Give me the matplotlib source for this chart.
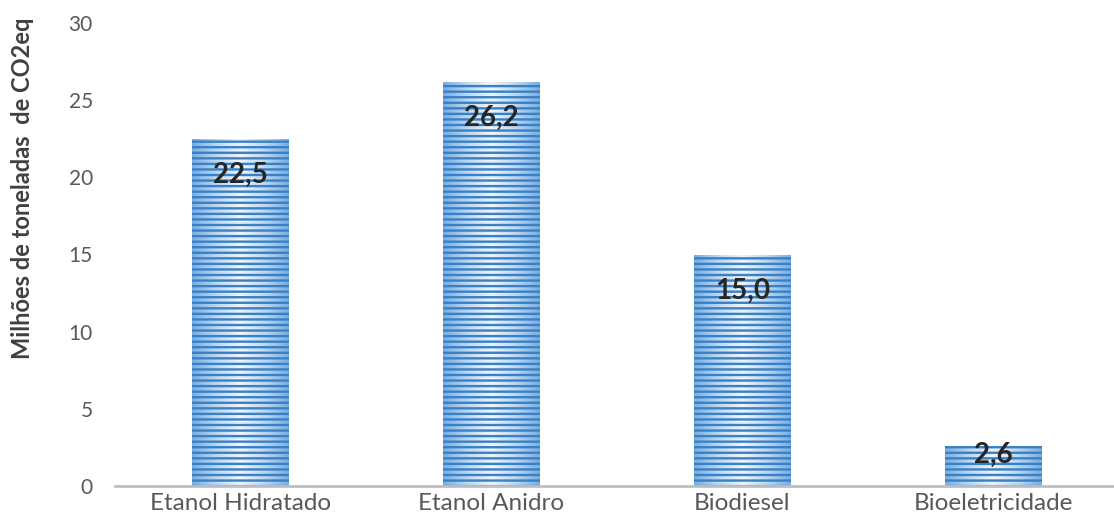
import numpy as np
import matplotlib
matplotlib.use("Agg")
import matplotlib.pyplot as plt
from matplotlib.colors import LinearSegmentedColormap

categories = ["Etanol Hidratado", "Etanol Anidro", "Biodiesel", "Bioeletricidade"]
values = [22.5, 26.2, 15.0, 2.6]
value_labels = ["22,5", "26,2", "15,0", "2,6"]
y_ticks = [0, 5, 10, 15, 20, 25, 30]
y_label = "Milhões de toneladas  de CO2eq"

plt.rcParams["font.family"] = ["Lato", "DejaVu Sans"]
plt.rcParams["hatch.linewidth"] = 1.7

fig = plt.figure(figsize=(11.14, 5.29), dpi=100)
ax = fig.add_axes([115 / 1114, 1 - 486 / 529, 1004 / 1114, 463 / 529])

x = np.arange(len(categories))
bar_w = 0.385

# base bars
bars = ax.bar(x, values, width=bar_w, color="#d6e7f7", edgecolor="none", zorder=2)

# horizontal shading: darker toward the sides, light in the middle
shade = LinearSegmentedColormap.from_list(
    "shade", ["#78ade2", "#bcd8f2", "#eef5fc", "#bcd8f2", "#78ade2"])
grad = np.linspace(0, 1, 256).reshape(1, -1)
for b in bars:
    x0, y0 = b.get_x(), b.get_y()
    w, h = b.get_width(), b.get_height()
    im = ax.imshow(grad, cmap=shade, aspect="auto",
                   extent=(x0, x0 + w, y0, y0 + h), zorder=3, interpolation="bilinear")
    im.set_clip_path(b)

# striped overlay
ax.bar(x, values, width=bar_w, facecolor="none", edgecolor="#3a80c4",
       hatch="---", linewidth=0, zorder=4)

for xi, v, lab in zip(x, values, value_labels):
    off = -26 if v > 5 else -6.5
    ax.annotate(lab, (xi, v), xytext=(0, off), textcoords="offset points",
                ha="center", va="center", fontsize=20, fontweight="bold",
                color="#262626", zorder=5)

ax.set_xlim(-0.5, len(categories) - 0.5)
ax.set_ylim(0, 30)
ax.set_yticks(y_ticks)
ax.set_yticklabels([str(t) for t in y_ticks])
ax.set_xticks(x)
ax.set_xticklabels(categories)

for s in ["top", "right", "left"]:
    ax.spines[s].set_visible(False)
ax.spines["bottom"].set_color("#bfbfbf")
ax.spines["bottom"].set_linewidth(2)
ax.spines["bottom"].set_zorder(6)

ax.tick_params(axis="y", length=0, pad=16, labelsize=15, labelcolor="#595959")
ax.tick_params(axis="x", length=0, pad=5, labelsize=17.5, labelcolor="#595959")

ax.set_ylabel(y_label, fontsize=17, fontweight="bold", color="#404040")
ax.yaxis.set_label_coords(-0.0926, 0.644)
ax.yaxis.label.set_va("center")

fig.savefig("out.png", dpi=100)
